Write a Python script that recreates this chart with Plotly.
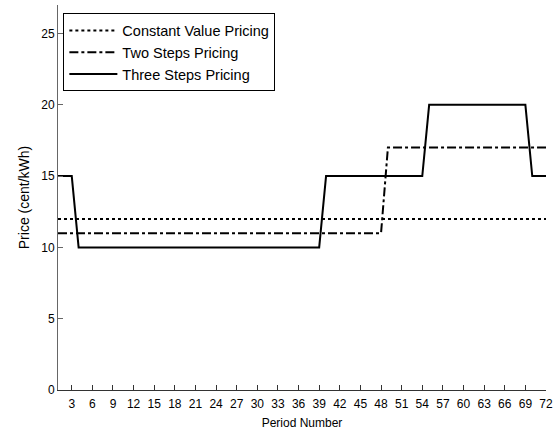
import plotly.graph_objects as go

periods = list(range(1, 73))
constant_price = [12] * 72
two_steps_price = [11] * 48 + [17] * 24
three_steps_price = [15] * 3 + [10] * 36 + [15] * 15 + [20] * 15 + [15] * 3

x_ticks = list(range(3, 73, 3))
y_ticks = [0, 5, 10, 15, 20, 25]

fig = go.Figure()
fig.add_trace(go.Scatter(x=periods, y=constant_price, mode="lines",
                         name="Constant Value Pricing",
                         line=dict(color="black", width=2, dash="dot")))
fig.add_trace(go.Scatter(x=periods, y=two_steps_price, mode="lines",
                         name="Two Steps Pricing",
                         line=dict(color="black", width=2, dash="dashdot")))
fig.add_trace(go.Scatter(x=periods, y=three_steps_price, mode="lines",
                         name="Three Steps Pricing",
                         line=dict(color="black", width=2)))

fig.update_layout(
    width=558, height=430,
    margin=dict(l=58, r=12, t=5, b=40),
    plot_bgcolor="white", paper_bgcolor="white",
    font=dict(family="Liberation Sans, Arial, sans-serif", size=12, color="black"),
    showlegend=True,
    legend=dict(x=0.011, y=0.978, xanchor="left", yanchor="top",
                bgcolor="white", bordercolor="black", borderwidth=1,
                font=dict(size=14.5), tracegroupgap=0, itemwidth=48),
    xaxis=dict(range=[1, 72], tickvals=x_ticks, ticktext=[str(v) for v in x_ticks],
               ticks="inside", ticklen=5, tickcolor="#333",
               showline=True, linecolor="#333", linewidth=1,
               showgrid=False, zeroline=False, automargin=False,
               tickfont=dict(size=12), ticklabelstandoff=3,
               title=dict(text="Period Number", font=dict(size=12), standoff=8)),
    yaxis=dict(range=[0, 27], tickvals=y_ticks,
               ticks="inside", ticklen=5, tickcolor="#666",
               showline=True, linecolor="#666", linewidth=1,
               showgrid=False, zeroline=False, automargin=False,
               tickfont=dict(size=12),
               title=dict(text="Price (cent/kWh)", font=dict(size=14), standoff=8)),
)

fig.write_html("out.html", config={"displayModeBar": False},
               post_script="document.body.style.margin='0';")
